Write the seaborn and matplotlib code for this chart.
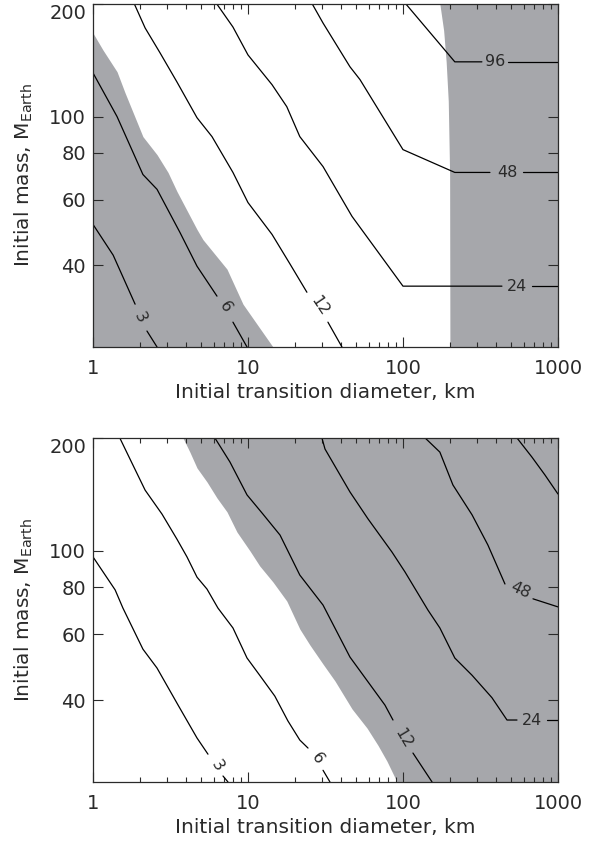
import numpy as np
import pandas as pd
import matplotlib
matplotlib.use("Agg")
import matplotlib.pyplot as plt
import seaborn as sns
from matplotlib.ticker import LogLocator, NullFormatter, NullLocator

NAN = np.nan

# ---------------- data (diameter km, mass M_Earth) ----------------
# Top panel contour lines (NaN = gap where the label sits)
TOP_3_D = [1.0, 1.35, 1.87, NAN, 2.23, 2.59]
TOP_3_M = [51.5, 42.6, 31.5, NAN, 26.7, 24.2]
TOP_6_D = [1.0, 1.43, 2.10, 2.59, 3.64, 4.69, 6.31, NAN, 8.0, 9.86]
TOP_6_M = [130.9, 100.0, 70.0, 63.9, 49.0, 39.8, 33.1, NAN, 28.2, 24.2]
TOP_12_D = [1.85, 2.17, 2.71, 3.48, 4.69, 5.86, 8.0, 10.0, 14.3, 18.7, 24.0, NAN, 32.8, 40.4]
TOP_12_M = [200.0, 172.6, 148.0, 123.8, 99.3, 88.4, 70.9, 58.9, 48.4, 40.3, 33.9, NAN, 28.2, 24.2]
TOP_24_D = [6.3, 8.0, 10.0, 14.3, 17.8, 21.6, 30.5, 46.9, 100.0, 435.0, NAN, 679.0, 1000.0]
TOP_24_M = [200.0, 173.6, 146.2, 121.7, 106.3, 88.4, 73.5, 54.1, 35.2, 35.2, NAN, 35.2, 35.2]
TOP_48_D = [26.0, 30.5, 45.5, 52.8, 100.0, 216.0, 364.0, NAN, 595.0, 1000.0]
TOP_48_M = [200.0, 177.9, 135.9, 125.6, 81.6, 70.9, 70.9, NAN, 70.9, 70.9]
TOP_96_D = [104.5, 216.0, 323.0, NAN, 476.0, 1000.0]
TOP_96_M = [200.0, 140.1, 140.1, NAN, 140.1, 140.1]

# Top panel shaded regions
TOP_LOW_D = [0.9, 1.0, 1.16, 1.43, 1.61, 2.10, 2.59, 3.05, 3.48, 4.69, 5.12, 7.32, 9.29, 11.4, 14.5, 16.0]
TOP_LOW_M = [175.0, 167.3, 150.7, 131.8, 115.8, 88.4, 79.1, 70.9, 63.1, 49.9, 46.9, 39.1, 31.5, 27.9, 24.2, 22.0]
TOP_HIGH_M = [20.0, 70.0, 110.0, 140.0, 170.0, 200.0, 220.0]
TOP_HIGH_D = [201.0, 200.0, 196.0, 190.0, 183.0, 173.0, 170.0]

# Top panel labels
TOP_LAB_TXT = ["3", "6", "12", "24", "48", "96"]
TOP_LAB_D = [2.01, 7.11, 29.1, 544.0, 469.0, 392.0]
TOP_LAB_M = [29.1, 30.9, 31.1, 35.2, 70.9, 140.1]
TOP_LAB_ROT = [-64, -58, -56, 0, 0, 0]

# Bottom panel contour lines
BOT_3_D = [1.0, 1.39, 1.56, 2.10, 2.59, 3.54, 4.69, 5.52, NAN, 6.90, 7.43]
BOT_3_M = [96.4, 78.7, 70.4, 54.7, 48.7, 38.8, 31.7, 28.7, NAN, 25.1, 24.2]
BOT_6_D = [1.49, 1.81, 2.17, 2.79, 3.48, 4.04, 4.69, 5.44, 6.40, 8.0, 9.86, 11.9, 14.9, 18.1, 21.6, 24.4, NAN, 30.5, 33.8]
BOT_6_M = [200.0, 169.4, 145.2, 125.3, 107.5, 96.4, 85.1, 79.1, 70.4, 62.3, 51.8, 46.6, 41.0, 35.2, 31.3, 29.8, NAN, 26.0, 24.2]
BOT_12_D = [6.12, 7.65, 9.86, 12.5, 16.1, 21.6, 30.5, 45.5, 76.5, 86.2, NAN, 116.0, 154.0]
BOT_12_M = [200.0, 172.6, 141.0, 125.3, 110.2, 86.2, 71.7, 52.1, 38.8, 35.4, NAN, 28.9, 24.2]
BOT_24_D = [30.0, 31.4, 45.5, 59.5, 84.9, 103.0, 145.0, 173.0, 216.0, 279.0, 375.0, 469.0, 544.0, NAN, 849.0, 1000.0]
BOT_24_M = [200.0, 186.9, 143.6, 121.7, 99.3, 87.9, 69.5, 62.3, 51.8, 46.6, 40.6, 35.4, 35.4, NAN, 35.4, 35.4]
BOT_48_D = [139.0, 173.0, 210.0, 279.0, 353.0, 455.0, NAN, 690.0, 1000.0]
BOT_48_M = [200.0, 183.4, 149.9, 124.8, 103.7, 81.6, NAN, 74.5, 70.9]
BOT_96_D = [544.0, 679.0, 824.0, 1000.0]
BOT_96_M = [200.0, 177.9, 159.4, 141.8]

# Bottom panel shaded region (boundary; shaded to the right)
BOT_GRAY_D = [3.6, 3.81, 4.22, 4.69, 5.44, 6.31, 7.32, 8.49, 10.3, 11.9, 14.5, 17.8, 21.6, 25.1, 30.5, 36.4, 46.9, 58.6, 69.0, 78.8, 91.5, 96.0]
BOT_GRAY_M = [220.0, 200.0, 183.4, 166.4, 152.7, 138.4, 127.1, 112.3, 100.0, 91.2, 82.6, 73.5, 61.9, 56.1, 49.9, 45.0, 37.9, 33.7, 30.3, 27.5, 24.2, 22.0]

# Bottom panel labels
BOT_LAB_TXT = ["3", "6", "12", "24", "48"]
BOT_LAB_D = [6.31, 27.9, 100.0, 679.0, 569.0]
BOT_LAB_M = [26.8, 28.0, 31.7, 35.4, 78.7]
BOT_LAB_ROT = [-57, -54, -59, 0, -25]

X_TICKS = [1, 10, 100, 1000]
X_TICK_LABELS = ["1", "10", "100", "1000"]
Y_TICKS = [40, 60, 80, 100, 200]
Y_TICK_LABELS = ["40", "60", "80", "100", "200"]
XLIM = (1, 1000)
YLIM = (24.2, 200)

GRAY = "#a6a7ab"
TXT = "#2a2a2a"

sns.set_style("ticks")
plt.rcParams["font.family"] = ["DejaVu Sans"]


def contour_frame(lines):
    rows = []
    seg = 0
    for d_arr, m_arr in lines:
        for d, m in zip(d_arr, m_arr):
            if np.isnan(d):
                seg += 1
                continue
            rows.append({"D": d, "M": m, "seg": seg})
        seg += 1
    return pd.DataFrame(rows)


def style_axes(ax):
    ax.set_xscale("log")
    ax.set_yscale("log")
    ax.set_xlim(*XLIM)
    ax.set_ylim(*YLIM)
    ax.set_xticks(X_TICKS, labels=X_TICK_LABELS)
    ax.xaxis.set_minor_locator(LogLocator(base=10, subs=np.arange(2, 10)))
    ax.xaxis.set_minor_formatter(NullFormatter())
    ax.set_yticks(Y_TICKS, labels=Y_TICK_LABELS)
    ax.yaxis.set_minor_locator(NullLocator())
    ax.yaxis.set_minor_formatter(NullFormatter())
    ax.tick_params(which="both", direction="in", top=True, right=True,
                   colors=TXT, labelsize=14)
    ax.tick_params(which="major", length=7, width=0.8)
    ax.tick_params(which="minor", length=3.5, width=0.8)
    ax.tick_params(axis="x", pad=9)
    ax.tick_params(axis="y", pad=5)
    for lab in ax.get_yticklabels():
        if lab.get_text() == "200":
            lab.set_va("top")
    for sp in ax.spines.values():
        sp.set_linewidth(0.9)
        sp.set_color(TXT)
    ax.set_xlabel("Initial transition diameter, km", fontsize=14.5, labelpad=3, color=TXT)
    ax.set_ylabel(r"Initial mass, M$_\mathregular{Earth}$", fontsize=14.5, labelpad=10, color=TXT)


fig = plt.figure(figsize=(6.01, 8.41), dpi=100)
ax1 = fig.add_axes([0.1547, 0.5874, 0.7737, 0.4078])
ax2 = fig.add_axes([0.1547, 0.0702, 0.7737, 0.4090])

for ax in (ax1, ax2):
    ax.set_xscale("log")
    ax.set_yscale("log")

# ---- top panel ----
ax1.fill_between(TOP_LOW_D, 1.0, TOP_LOW_M, color=GRAY, lw=0, zorder=0)
ax1.fill_betweenx(TOP_HIGH_M, TOP_HIGH_D, 5000, color=GRAY, lw=0, zorder=0)
df_top = contour_frame([(TOP_3_D, TOP_3_M), (TOP_6_D, TOP_6_M), (TOP_12_D, TOP_12_M),
                        (TOP_24_D, TOP_24_M), (TOP_48_D, TOP_48_M), (TOP_96_D, TOP_96_M)])
sns.lineplot(data=df_top, x="D", y="M", units="seg", estimator=None, sort=False,
             color="black", linewidth=0.9, ax=ax1, legend=False)
for t, d, m, r in zip(TOP_LAB_TXT, TOP_LAB_D, TOP_LAB_M, TOP_LAB_ROT):
    ax1.text(d, m, t, rotation=r, ha="center", va="center", fontsize=11.5,
             color=TXT, rotation_mode="anchor")
style_axes(ax1)

# ---- bottom panel ----
ax2.fill_betweenx(BOT_GRAY_M, BOT_GRAY_D, 5000, color=GRAY, lw=0, zorder=0)
df_bot = contour_frame([(BOT_3_D, BOT_3_M), (BOT_6_D, BOT_6_M), (BOT_12_D, BOT_12_M),
                        (BOT_24_D, BOT_24_M), (BOT_48_D, BOT_48_M), (BOT_96_D, BOT_96_M)])
sns.lineplot(data=df_bot, x="D", y="M", units="seg", estimator=None, sort=False,
             color="black", linewidth=0.9, ax=ax2, legend=False)
for t, d, m, r in zip(BOT_LAB_TXT, BOT_LAB_D, BOT_LAB_M, BOT_LAB_ROT):
    ax2.text(d, m, t, rotation=r, ha="center", va="center", fontsize=11.5,
             color=TXT, rotation_mode="anchor")
style_axes(ax2)

fig.savefig("out.png", dpi=100)
